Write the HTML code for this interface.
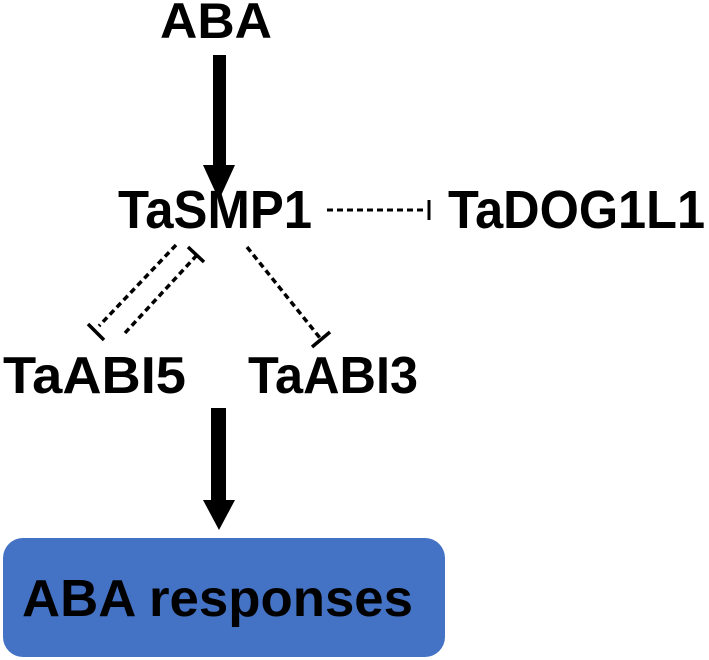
<!DOCTYPE html>
<html><head><meta charset="utf-8"><style>
html,body{margin:0;padding:0;background:#fff;width:709px;height:660px;overflow:hidden}
svg text{font-family:"Liberation Sans",Arial,sans-serif;font-weight:bold;fill:#000}
</style></head><body>
<svg width="709" height="660" viewBox="0 0 709 660" xmlns="http://www.w3.org/2000/svg">
<text x="160" y="38" font-size="50" textLength="112" lengthAdjust="spacingAndGlyphs">ABA</text>
<rect x="213" y="55" width="13" height="112" fill="#000"/>
<polygon points="203,165 235,165 219,200" fill="#000"/>
<text x="118" y="228" font-size="54" textLength="194" lengthAdjust="spacingAndGlyphs">TaSMP1</text>
<line x1="327" y1="210" x2="427" y2="210" stroke="#000" stroke-width="3" stroke-dasharray="6,4"/>
<line x1="429" y1="200" x2="429" y2="220" stroke="#000" stroke-width="3"/>
<text x="448" y="228" font-size="54" textLength="257" lengthAdjust="spacingAndGlyphs">TaDOG1L1</text>
<line x1="176" y1="245" x2="99" y2="326" stroke="#000" stroke-width="3.5" stroke-dasharray="6,4"/>
<line x1="88" y1="324" x2="104" y2="340" stroke="#000" stroke-width="3.5"/>
<line x1="125" y1="333" x2="197" y2="255" stroke="#000" stroke-width="3.5" stroke-dasharray="6,4"/>
<line x1="188" y1="247" x2="204" y2="262" stroke="#000" stroke-width="3.5"/>
<line x1="247" y1="247" x2="320" y2="338" stroke="#000" stroke-width="3.5" stroke-dasharray="6,4"/>
<line x1="312" y1="347" x2="330" y2="332" stroke="#000" stroke-width="3.5"/>
<text x="3" y="393" font-size="52" textLength="183" lengthAdjust="spacingAndGlyphs">TaABI5</text>
<text x="248" y="393" font-size="52" textLength="170" lengthAdjust="spacingAndGlyphs">TaABI3</text>
<rect x="211" y="408" width="15" height="94" fill="#000"/>
<polygon points="203,500 235,500 219,530" fill="#000"/>
<rect x="3" y="538" width="442" height="119" rx="20" ry="20" fill="#4472C4"/>
<text x="22" y="616" font-size="52" textLength="391" lengthAdjust="spacingAndGlyphs">ABA responses</text>
</svg>
</body></html>
